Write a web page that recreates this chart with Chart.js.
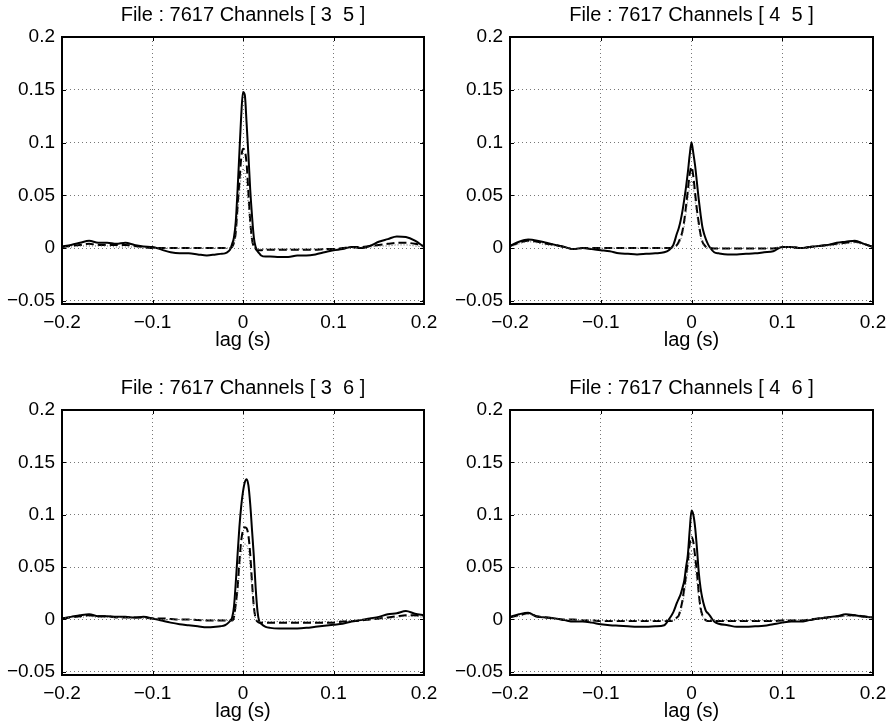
<!DOCTYPE html>
<html>
<head>
<meta charset="utf-8">
<title>File 7617 cross-correlation</title>
<script src="https://cdn.jsdelivr.net/npm/chart.js@4.4.1/dist/chart.umd.min.js"></script>
<style>
  body { margin: 0; background: #fff; }
  #wrap { position: relative; width: 894px; height: 727px; }
  #wrap canvas { position: absolute; }
</style>
</head>
<body>
<div id="wrap">
  <canvas id="c35" width="447" height="352" style="left:0;top:0"></canvas>
  <canvas id="c45" width="447" height="352" style="left:447px;top:0"></canvas>
  <canvas id="c36" width="447" height="350" style="left:0;top:373px"></canvas>
  <canvas id="c46" width="447" height="350" style="left:447px;top:373px"></canvas>
</div>
<script>
// lag axis (s): coarse in the tails, 2 ms steps around the peak
const LAGS = [
  -0.2, -0.19, -0.18, -0.17, -0.16, -0.15, -0.14, -0.13, -0.12, -0.11, -0.1, -0.09, -0.08, -0.07, -0.06, -0.05, -0.04, -0.03,
  -0.025, -0.02, -0.016, -0.014, -0.012, -0.01, -0.008, -0.006, -0.004, -0.002, 0, 0.002, 0.004, 0.006, 0.008, 0.01, 0.012, 0.014, 0.016, 0.018, 0.02, 0.025,
  0.03, 0.04, 0.05, 0.06, 0.07, 0.08, 0.09, 0.1, 0.11, 0.12, 0.13, 0.14, 0.15, 0.16, 0.17, 0.18, 0.19, 0.2
];
const X_TICKS = [-0.2, -0.1, 0, 0.1, 0.2];
const Y_TICKS = [-0.05, 0, 0.05, 0.1, 0.15, 0.2];
const Y_MIN = -0.053;
const Y_MAX = 0.2;

// channels [3 5]
const solid35 = [
  0.0016, 0.003, 0.005, 0.007, 0.005, 0.005, 0.004, 0.005, 0.003, 0.0015, 0.001, -0.0015, -0.004, -0.005, -0.005, -0.006, -0.007, -0.006,
  -0.0055, -0.005, -0.003, -0.001, 0.004, 0.01, 0.025, 0.055, 0.09, 0.125, 0.148, 0.145, 0.118, 0.088, 0.055, 0.03, 0.01, 0.001, -0.003, -0.005, -0.007, -0.008,
  -0.008, -0.0085, -0.0085, -0.007, -0.007, -0.006, -0.004, -0.002, -0.001, 0.001, 0, 0.002, 0.006, 0.0085, 0.011, 0.0105, 0.007, 0.001
];
const dashed35 = [
  0.001, 0.002, 0.003, 0.004, 0.003, 0.003, 0.003, 0.003, 0.002, 0.001, 0, 0, 0, 0, 0, 0, 0, 0,
  0, 0, 0, 0, 0.001, 0.005, 0.015, 0.04, 0.063, 0.085, 0.094, 0.092, 0.08, 0.052, 0.025, 0.008, 0.001, -0.001, -0.002, -0.002, -0.002, -0.0015,
  -0.0015, -0.0015, -0.0015, -0.0015, -0.0015, -0.0015, -0.001, -0.001, 0, 0.001, 0.001, 0.002, 0.003, 0.004, 0.005, 0.005, 0.004, 0.002
];
const dotted35 = [
  0.001, 0.001, 0.002, 0.002, 0.002, 0.002, 0.001, 0.001, 0.001, 0, 0, 0, 0, 0, 0, 0, 0, 0,
  0, 0, 0, 0, 0.001, 0.004, 0.012, 0.03, 0.05, 0.068, 0.075, 0.072, 0.06, 0.04, 0.02, 0.006, 0.001, 0, -0.001, -0.001, -0.001, -0.001,
  -0.001, -0.001, -0.001, -0.001, -0.001, -0.001, -0.001, -0.001, 0, 0, 0.001, 0.001, 0.002, 0.002, 0.003, 0.003, 0.002, 0.001
];

// channels [4 5]
const solid45 = [
  0.002, 0.006, 0.008, 0.007, 0.005, 0.003, 0.001, -0.001, 0, -0.001, -0.002, -0.003, -0.005, -0.0055, -0.006, -0.0055, -0.005, -0.004,
  -0.002, 0.003, 0.014, 0.019, 0.026, 0.035, 0.046, 0.058, 0.072, 0.088, 0.1, 0.09, 0.078, 0.062, 0.046, 0.032, 0.02, 0.013, 0.008, 0.004, 0.001, -0.004,
  -0.005, -0.006, -0.006, -0.0055, -0.005, -0.004, -0.003, 0.001, 0.001, 0, 0.001, 0.002, 0.003, 0.005, 0.006, 0.007, 0.004, 0.001
];
const dashed45 = [
  0.002, 0.005, 0.007, 0.006, 0.004, 0.003, 0.001, -0.001, 0, 0, 0, 0, 0, 0, 0, 0, 0, 0,
  0, 0.001, 0.003, 0.006, 0.01, 0.016, 0.026, 0.04, 0.055, 0.07, 0.077, 0.068, 0.052, 0.036, 0.024, 0.013, 0.006, 0.003, 0.001, 0, 0, -0.0005,
  -0.0005, -0.0005, -0.0005, -0.0005, -0.0005, -0.0005, -0.0005, 0.001, 0.001, 0, 0.001, 0.002, 0.003, 0.004, 0.005, 0.006, 0.004, 0.001
];
const dotted45 = [
  0.001, 0.004, 0.006, 0.005, 0.003, 0.002, 0.001, -0.001, 0, 0, 0, 0, 0, 0, 0, 0, 0, 0,
  0, 0.001, 0.002, 0.004, 0.008, 0.013, 0.021, 0.033, 0.046, 0.058, 0.065, 0.057, 0.044, 0.03, 0.019, 0.01, 0.005, 0.002, 0.001, 0, 0, 0,
  0, 0, 0, 0, 0, 0, 0, 0.001, 0.001, 0, 0.001, 0.002, 0.002, 0.003, 0.004, 0.005, 0.003, 0.001
];

// channels [3 6]
const solid36 = [
  0.001, 0.0025, 0.004, 0.005, 0.003, 0.003, 0.0025, 0.0025, 0.002, 0.0025, 0.001, -0.001, -0.003, -0.0045, -0.0055, -0.0065, -0.0075, -0.007,
  -0.0065, -0.0055, -0.003, -0.001, 0.002, 0.012, 0.035, 0.062, 0.088, 0.108, 0.122, 0.131, 0.134, 0.128, 0.11, 0.085, 0.06, 0.03, 0.008, -0.002, -0.004, -0.007,
  -0.008, -0.0085, -0.0085, -0.0085, -0.008, -0.007, -0.006, -0.005, -0.004, -0.002, -0.0006, 0.001, 0.0025, 0.005, 0.006, 0.008, 0.0055, 0.004
];
const dashed36 = [
  0.001, 0.002, 0.003, 0.004, 0.003, 0.003, 0.002, 0.002, 0.002, 0.002, 0.001, 0.001, 0.0005, 0, 0, -0.0005, -0.001, -0.001,
  -0.001, -0.001, -0.001, -0.001, -0.001, 0.002, 0.015, 0.03, 0.055, 0.075, 0.085, 0.088, 0.087, 0.08, 0.062, 0.035, 0.012, 0.001, -0.002, -0.003, -0.003, -0.003,
  -0.003, -0.003, -0.003, -0.003, -0.003, -0.003, -0.003, -0.003, -0.002, -0.0015, -0.001, 0, 0.001, 0.002, 0.003, 0.004, 0.004, 0.003
];
const dotted36 = [
  0.001, 0.002, 0.002, 0.003, 0.002, 0.002, 0.002, 0.002, 0.001, 0.001, 0.001, 0, 0, 0, 0, 0, -0.001, -0.001,
  -0.001, -0.001, -0.001, -0.001, -0.001, 0.001, 0.01, 0.024, 0.045, 0.062, 0.07, 0.072, 0.071, 0.065, 0.05, 0.028, 0.009, 0.001, -0.001, -0.002, -0.002, -0.002,
  -0.002, -0.002, -0.002, -0.002, -0.002, -0.002, -0.002, -0.002, -0.001, -0.001, 0, 0, 0.001, 0.001, 0.002, 0.003, 0.003, 0.002
];

// channels [4 6]
const solid46 = [
  0.0025, 0.005, 0.0065, 0.0025, 0.002, 0.001, -0.0006, -0.002, -0.002, -0.003, -0.0045, -0.0055, -0.006, -0.0065, -0.007, -0.007, -0.0065, -0.0055,
  0, 0.007, 0.016, 0.02, 0.024, 0.03, 0.037, 0.05, 0.062, 0.085, 0.104, 0.1, 0.088, 0.068, 0.045, 0.03, 0.02, 0.013, 0.008, 0.006, 0.004, -0.002,
  -0.004, -0.0055, -0.007, -0.007, -0.0065, -0.006, -0.0045, -0.003, -0.002, -0.002, -0.0006, 0.001, 0.002, 0.003, 0.005, 0.004, 0.0025, 0.002
];
const dashed46 = [
  0.002, 0.004, 0.006, 0.003, 0.002, 0.001, 0, 0, -0.001, -0.001, -0.0015, -0.0015, -0.0015, -0.0015, -0.0015, -0.0015, -0.0015, -0.0015,
  -0.0015, -0.001, 0.002, 0.004, 0.01, 0.018, 0.03, 0.042, 0.056, 0.072, 0.079, 0.074, 0.06, 0.045, 0.025, 0.011, 0.004, 0.001, -0.001, -0.0015, -0.0015, -0.0015,
  -0.0015, -0.0015, -0.0015, -0.0015, -0.0015, -0.0015, -0.0015, -0.001, -0.001, -0.001, 0, 0.001, 0.002, 0.003, 0.004, 0.004, 0.003, 0.002
];
const dotted46 = [
  0.002, 0.003, 0.005, 0.003, 0.002, 0.001, 0, 0, -0.001, -0.001, -0.001, -0.001, -0.001, -0.001, -0.001, -0.001, -0.001, -0.001,
  -0.001, -0.001, 0.001, 0.003, 0.007, 0.014, 0.024, 0.035, 0.047, 0.059, 0.065, 0.06, 0.049, 0.036, 0.02, 0.009, 0.003, 0.001, -0.001, -0.001, -0.001, -0.001,
  -0.001, -0.001, -0.001, -0.001, -0.001, -0.001, -0.001, -0.0005, -0.0005, -0.0005, 0, 0.001, 0.002, 0.002, 0.003, 0.003, 0.002, 0.002
];

const panels = [
  { id: 'c35', title: 'File : 7617 Channels [ 3  5 ]', solid: solid35, dashed: dashed35, dotted: dotted35, yWidth: 62, padRight: 23 },
  { id: 'c45', title: 'File : 7617 Channels [ 4  5 ]', solid: solid45, dashed: dashed45, dotted: dotted45, yWidth: 63, padRight: 21 },
  { id: 'c36', title: 'File : 7617 Channels [ 3  6 ]', solid: solid36, dashed: dashed36, dotted: dotted36, yWidth: 62, padRight: 23 },
  { id: 'c46', title: 'File : 7617 Channels [ 4  6 ]', solid: solid46, dashed: dashed46, dotted: dotted46, yWidth: 63, padRight: 21 }
];

const FONT = 'Liberation Sans, Arial, Helvetica, sans-serif';

function fmt(v) {
  if (v === 0) return '0';
  return v < 0 ? '\u2212' + String(-v) : String(v);
}

function toPoints(values) {
  return LAGS.map((x, i) => ({ x, y: values[i] }));
}

// matlab style frame: thick box plus short inward ticks on all four sides
const boxPlugin = {
  id: 'matlabBox',
  afterDraw(chart) {
    const { ctx, chartArea: a, scales: { x, y } } = chart;
    ctx.save();
    ctx.strokeStyle = '#000';
    ctx.lineWidth = 1;
    ctx.beginPath();
    X_TICKS.forEach(v => {
      const px = Math.round(x.getPixelForValue(v)) + 0.5;
      ctx.moveTo(px, a.bottom); ctx.lineTo(px, a.bottom - 4);
      ctx.moveTo(px, a.top); ctx.lineTo(px, a.top + 4);
    });
    Y_TICKS.forEach(v => {
      const py = Math.round(y.getPixelForValue(v)) + 0.5;
      ctx.moveTo(a.left, py); ctx.lineTo(a.left + 4, py);
      ctx.moveTo(a.right, py); ctx.lineTo(a.right - 4, py);
    });
    ctx.stroke();
    ctx.lineWidth = 2;
    ctx.strokeRect(a.left, a.top, a.right - a.left, a.bottom - a.top);
    ctx.restore();
  }
};

panels.forEach(p => {
  new Chart(document.getElementById(p.id), {
    type: 'line',
    data: {
      datasets: [
        { label: 'solid', data: toPoints(p.solid), borderColor: '#000', borderWidth: 2, order: 3 },
        { label: 'dashed', data: toPoints(p.dashed), borderColor: '#000', borderWidth: 2, borderDash: [8, 4], order: 2 },
        { label: 'dotted', data: toPoints(p.dotted), borderColor: '#555', borderWidth: 1, borderDash: [1, 2], order: 1 }
      ]
    },
    options: {
      responsive: false,
      animation: false,
      events: [],
      layout: { padding: { left: 0, right: p.padRight, top: 0, bottom: 0 } },
      elements: {
        point: { radius: 0 },
        line: { cubicInterpolationMode: 'monotone', borderJoinStyle: 'round', fill: false }
      },
      plugins: {
        legend: { display: false },
        tooltip: { enabled: false },
        title: {
          display: true,
          fullSize: false,
          text: p.title,
          color: '#000',
          font: { family: FONT, size: 20, weight: 'normal' },
          padding: { top: 3, bottom: 10 }
        }
      },
      scales: {
        x: {
          type: 'linear',
          min: -0.2,
          max: 0.2,
          afterBuildTicks: s => { s.ticks = X_TICKS.map(value => ({ value })); },
          afterFit: s => { s.height = 48; },
          ticks: {
            color: '#000',
            padding: 7,
            maxRotation: 0,
            autoSkip: false,
            font: { family: FONT, size: 19 },
            callback: v => fmt(v)
          },
          grid: { color: '#777', lineWidth: 1, drawTicks: false },
          border: { display: false, dash: [1, 3] },
          title: {
            display: true,
            text: 'lag (s)',
            color: '#000',
            font: { family: FONT, size: 20 },
            padding: { top: 0, bottom: 0 }
          }
        },
        y: {
          min: Y_MIN,
          max: Y_MAX,
          afterBuildTicks: s => { s.ticks = Y_TICKS.map(value => ({ value })); },
          afterFit: s => { s.width = p.yWidth; },
          ticks: {
            color: '#000',
            padding: 7,
            font: { family: FONT, size: 19 },
            callback: v => fmt(v)
          },
          grid: { color: '#777', lineWidth: 1, drawTicks: false },
          border: { display: false, dash: [1, 3] }
        }
      }
    },
    plugins: [boxPlugin]
  });
});
</script>
</body>
</html>
